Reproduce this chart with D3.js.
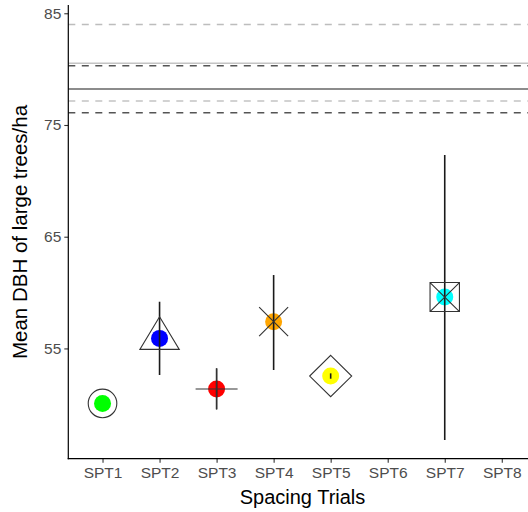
<!DOCTYPE html>
<html><head><meta charset="utf-8">
<script src="https://cdn.jsdelivr.net/npm/d3@7"></script>
<style>body{margin:0;background:#fff}svg{display:block}text{font-family:"Liberation Sans",Arial,sans-serif}</style>
</head><body>
<svg id="chart" width="528" height="512"></svg>
<script>
const categories = ["SPT1","SPT2","SPT3","SPT4","SPT5","SPT6","SPT7","SPT8"];
const means  = [50.08, 55.90, 51.37, 57.39, 52.53, null, 59.60, null];
const lower  = [50.08, 52.62, 49.55, 53.07, 52.29, null, 46.80, null];
const upper  = [50.08, 59.18, 53.22, 61.57, 52.77, null, 72.31, null];
const shapes = ["circle","triangle","plus","cross","diamond",null,"squarecross",null];
const colors = ["#00ff00","#0000ff","#ff0000","#ffa500","#ffff00",null,"#00ffff",null];
const yTicks = [55, 65, 75, 85];
const darkMean = 78.22, darkBand = [76.10, 80.30];
const lightMean = 80.52, lightBand = [77.15, 84.00];

const svg = d3.select("#chart");
const x = d3.scalePoint().domain(categories).range([68.3, 536]).padding(0.6);
const y = d3.scaleLinear().domain([45.13, 85.74]).range([458.7, 5]);
const left = 68.3, right = 536;

// reference lines
const refs = [
  {v: lightBand[1], c: "#bdbdbd", d: "7,6.5"},
  {v: lightMean, c: "#c4c4c4", d: null},
  {v: darkBand[1], c: "#555555", d: "7,6.5"},
  {v: darkMean, c: "#666666", d: null},
  {v: lightBand[0], c: "#c4c4c4", d: "7,6.5"},
  {v: darkBand[0], c: "#555555", d: "7,6.5"}
];
svg.append("g").selectAll("line").data(refs).join("line")
  .attr("x1", left).attr("x2", right)
  .attr("y1", d => y(d.v)).attr("y2", d => y(d.v))
  .attr("stroke", d => d.c).attr("stroke-width", 1.6)
  .attr("stroke-dasharray", d => d.d);

const data = categories.map((c, i) => ({c, m: means[i], lo: lower[i], hi: upper[i], s: shapes[i], col: colors[i]}))
  .filter(d => d.m != null);

// dots
svg.append("g").selectAll("circle").data(data).join("circle")
  .attr("cx", d => x(d.c)).attr("cy", d => y(d.m)).attr("r", 8.5)
  .attr("fill", d => d.col);

// error bars
svg.append("g").selectAll("line").data(data.filter(d => d.hi > d.lo)).join("line")
  .attr("x1", d => x(d.c)).attr("x2", d => x(d.c))
  .attr("y1", d => y(d.lo)).attr("y2", d => y(d.hi))
  .attr("stroke", "#1a1a1a").attr("stroke-width", 1.6);

// shapes
function shapePath(s) {
  switch (s) {
    case "circle": { const r = 14.3; return `M${-r},0A${r},${r} 0 1,0 ${r},0A${r},${r} 0 1,0 ${-r},0Z`; }
    case "triangle": return "M0,-21.6L19.7,11L-19.7,11Z";
    case "plus": return "M-21,0H21M0,-20.5V20.5";
    case "cross": return "M-14.5,-14.5L14.5,14.5M-14.5,14.5L14.5,-14.5";
    case "diamond": return "M0,-20.7L21,0L0,20.7L-21,0Z";
    case "squarecross": return "M-14.7,-14.5H14.7V14.5H-14.7ZM-14.7,-14.5L14.7,14.5M-14.7,14.5L14.7,-14.5";
  }
  return "";
}
svg.append("g").selectAll("path").data(data).join("path")
  .attr("transform", d => `translate(${x(d.c)},${y(d.m)})`)
  .attr("d", d => shapePath(d.s))
  .attr("fill", "none").attr("stroke", "#333").attr("stroke-width", 1.1);

// axes
const yAxis = svg.append("g").attr("transform", `translate(${left},0)`)
  .call(d3.axisLeft(y).tickValues(yTicks).tickSize(4).tickPadding(3));
const xAxis = svg.append("g").attr("transform", `translate(0,458.7)`)
  .call(d3.axisBottom(x).tickSize(4).tickPadding(4));
[yAxis, xAxis].forEach(g => {
  g.select(".domain").remove();
  g.selectAll(".tick line").attr("stroke", "#333").attr("stroke-width", 1.1);
  g.selectAll(".tick text").attr("fill", "#4d4d4d").style("font-size", "15.5px")
    .style("font-family", '"Liberation Sans",Arial,sans-serif');
});
svg.append("line").attr("x1", left).attr("x2", left).attr("y1", 5).attr("y2", 459.3)
  .attr("stroke", "#000").attr("stroke-width", 1.2);
svg.append("line").attr("x1", left - 0.6).attr("x2", 528).attr("y1", 458.7).attr("y2", 458.7)
  .attr("stroke", "#000").attr("stroke-width", 1.2);

svg.append("text").attr("x", 302.5).attr("y", 504).attr("text-anchor", "middle")
  .style("font-size", "20px").attr("fill", "#000").text("Spacing Trials");
svg.append("text").attr("transform", "translate(27,232) rotate(-90)").attr("text-anchor", "middle")
  .style("font-size", "20.5px").attr("fill", "#000").text("Mean DBH of large trees/ha");
</script>
</body></html>
